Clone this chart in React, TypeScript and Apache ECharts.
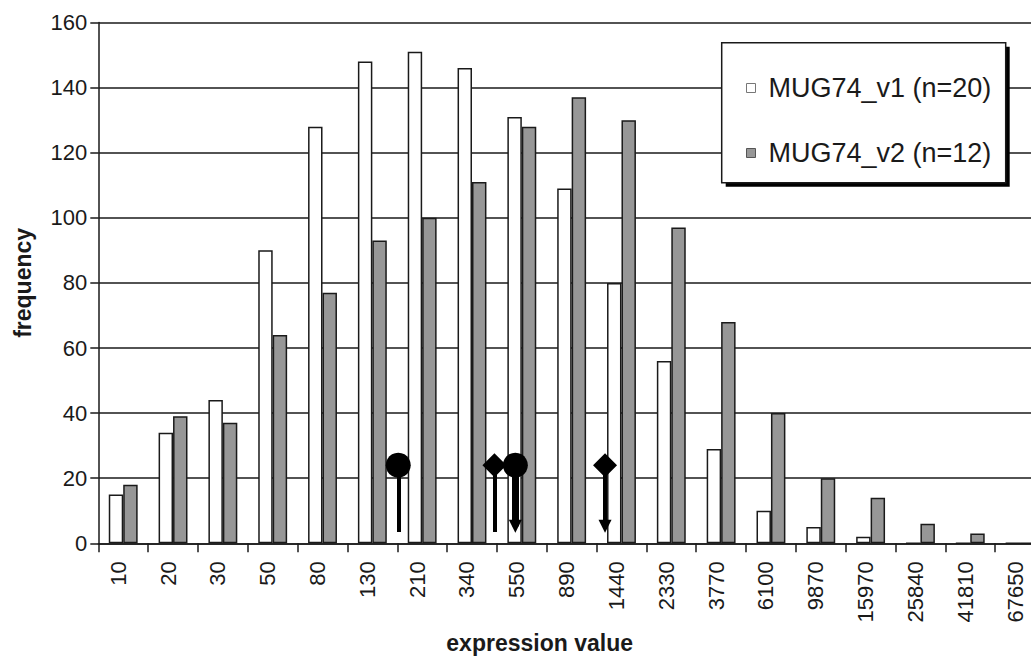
import React, { useEffect, useRef } from "react";
import * as echarts from "echarts";

const categories = ["10", "20", "30", "50", "80", "130", "210", "340", "550", "890", "1440", "2330", "3770", "6100", "9870", "15970", "25840", "41810", "67650"];
const v1Values = [15, 34, 44, 90, 128, 148, 151, 146, 131, 109, 80, 56, 29, 10, 5, 2, 0, 0, 0];
const v2Values = [18, 39, 37, 64, 77, 93, 100, 111, 128, 137, 130, 97, 68, 40, 20, 14, 6, 3, 0];
const seriesNames = ["MUG74_v1 (n=20)", "MUG74_v2 (n=12)"];
const yTicks = { min: 0, max: 160, interval: 20 };

// marker positions on a continuous category scale (category i spans [i, i+1])
const circleMarkers = [[6.02, 24], [8.37, 24]];
const diamondMarkers = [[7.95, 24], [10.17, 24]];
const plainStems = [[[6.02, 24], [6.02, 3.5]], [[7.95, 24], [7.95, 3.5]]];
const arrowStems = [[[8.37, 24], [8.37, 5.2]], [[10.17, 24], [10.17, 5.2]]];
const thickArrow = [[[8.37, 24], [8.37, 5.2]]];

const INK = "#1a1a1a";
const GRAY = "#979797";
const FONT = "'Liberation Sans', Arial, Helvetica, sans-serif";

export default function App() {
  const ref = useRef<HTMLDivElement>(null);
  useEffect(() => {
    if (!ref.current) return;
    const chart = echarts.init(ref.current, null, { renderer: "svg" });
    chart.setOption({
      animation: false,
      backgroundColor: "#ffffff",
      grid: { left: 98.3, right: 0, top: 22.5, bottom: 117.7, containLabel: false },
      xAxis: [
        {
          type: "category",
          data: categories,
          boundaryGap: true,
          axisLine: { show: true, lineStyle: { color: INK, width: 1.5 } },
          axisTick: { show: true, length: 9, inside: false, alignWithLabel: false, interval: 0, lineStyle: { color: INK, width: 1.5 } },
          axisLabel: { interval: 0, rotate: 90, margin: 18, fontSize: 22, fontFamily: FONT, color: INK, verticalAlign: "bottom", lineHeight: 10 },
          splitLine: { show: false },
          name: "expression value",
          nameLocation: "middle",
          nameGap: 88,
          nameTextStyle: { fontSize: 23, fontWeight: "bold", fontFamily: FONT, color: INK, padding: [0, 64, 0, 0] },
        },
        {
          type: "value",
          min: 0,
          max: categories.length,
          show: false,
          position: "bottom",
        },
      ],
      yAxis: {
        type: "value",
        min: yTicks.min,
        max: yTicks.max,
        interval: yTicks.interval,
        axisLine: { show: true, lineStyle: { color: INK, width: 1.5 } },
        axisTick: { show: true, length: 8, inside: false, lineStyle: { color: INK, width: 1.5 } },
        axisLabel: { margin: 11, fontSize: 22, fontFamily: FONT, color: INK },
        splitLine: { show: true, lineStyle: { color: INK, width: 1.5 } },
        name: "frequency",
        nameLocation: "middle",
        nameRotate: 90,
        nameGap: 64,
        nameTextStyle: { fontSize: 23, fontWeight: "bold", fontFamily: FONT, color: INK },
      },
      legend: {
        show: true,
        orient: "vertical",
        left: 741,
        top: 68,
        itemWidth: 9,
        itemHeight: 9,
        itemGap: 35,
        z: 10,
        textStyle: { fontSize: 27, fontFamily: FONT, color: INK, lineHeight: 30, padding: [0, 0, 0, 8] },
        data: [
          { name: seriesNames[0], icon: "rect", itemStyle: { color: "#ffffff", borderColor: "#777777", borderWidth: 1 } },
          { name: seriesNames[1], icon: "rect", itemStyle: { color: GRAY, borderColor: "#555555", borderWidth: 1 } },
        ],
      },
      graphic: [
        { type: "rect", z: 5, shape: { x: 725.7, y: 46.7, width: 284, height: 140 }, style: { fill: "#000000" } },
        { type: "rect", z: 6, shape: { x: 721.7, y: 42.7, width: 284, height: 140 }, style: { fill: "#ffffff", stroke: INK, lineWidth: 1.5 } },
      ],
      series: [
        {
          name: seriesNames[0],
          type: "bar",
          data: v1Values,
          barGap: "0%",
          barCategoryGap: "42%",
          itemStyle: { color: "#ffffff", borderColor: INK, borderWidth: 1.5 },
          z: 2,
        },
        {
          name: seriesNames[1],
          type: "bar",
          data: v2Values,
          barGap: "0%",
          barCategoryGap: "42%",
          itemStyle: { color: GRAY, borderColor: INK, borderWidth: 1.5 },
          z: 2,
        },
        {
          name: "stems",
          type: "lines",
          coordinateSystem: "cartesian2d",
          xAxisIndex: 1,
          yAxisIndex: 0,
          symbol: ["none", "none"],
          lineStyle: { color: "#000000", width: 4, opacity: 1 },
          data: plainStems.map((c) => ({ coords: c })),
          z: 4,
        },
        {
          name: "arrows",
          type: "lines",
          coordinateSystem: "cartesian2d",
          xAxisIndex: 1,
          yAxisIndex: 0,
          symbol: ["none", "triangle"],
          symbolSize: 13,
          lineStyle: { color: "#000000", width: 4, opacity: 1 },
          data: arrowStems.map((c) => ({ coords: c })),
          z: 4,
        },
        {
          name: "thick",
          type: "lines",
          coordinateSystem: "cartesian2d",
          xAxisIndex: 1,
          yAxisIndex: 0,
          symbol: ["none", "none"],
          lineStyle: { color: "#000000", width: 7, opacity: 1 },
          data: thickArrow.map((c) => ({ coords: c })),
          z: 4,
        },
        {
          name: "circles",
          type: "scatter",
          xAxisIndex: 1,
          yAxisIndex: 0,
          symbol: "circle",
          symbolSize: 25,
          itemStyle: { color: "#000000", opacity: 1 },
          data: circleMarkers,
          z: 5,
        },
        {
          name: "diamonds",
          type: "scatter",
          xAxisIndex: 1,
          yAxisIndex: 0,
          symbol: "diamond",
          symbolSize: 24,
          itemStyle: { color: "#000000", opacity: 1 },
          data: diamondMarkers,
          z: 5,
        },
      ],
    });
    return () => chart.dispose();
  }, []);
  return (
    <div style={{ position: "absolute", left: 0, top: 0, width: 1031, height: 661, overflow: "hidden", background: "#fff" }}>
      <div ref={ref} style={{ width: 1044.5, height: 661 }} />
    </div>
  );
}
